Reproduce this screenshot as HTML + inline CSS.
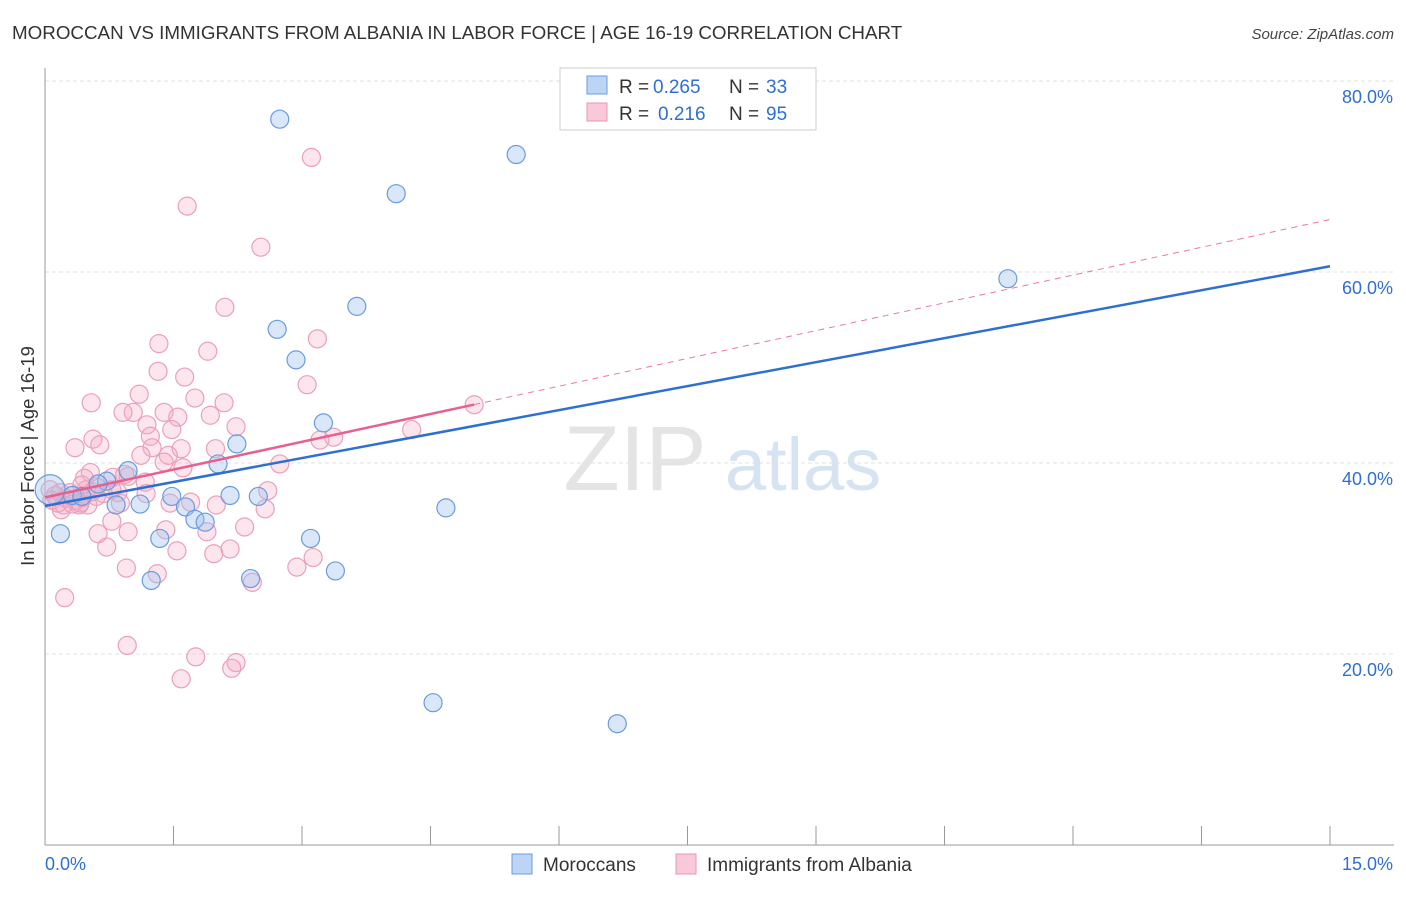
<!DOCTYPE html>
<html><head><meta charset="utf-8"><style>
body{margin:0;background:#fff;font-family:"Liberation Sans",sans-serif}
svg text{font-family:"Liberation Sans",sans-serif}
</style></head><body>
<svg id="chart" width="1406" height="892" xmlns="http://www.w3.org/2000/svg">
<text x="12" y="39" font-size="18.8" fill="#333">MOROCCAN VS IMMIGRANTS FROM ALBANIA IN LABOR FORCE | AGE 16-19 CORRELATION CHART</text>
<text x="1394" y="39" font-size="15" fill="#444" text-anchor="end" font-style="italic">Source: ZipAtlas.com</text>
<g>
<text x="635" y="490" font-size="92" fill="#e4e4e4" text-anchor="middle" font-family="Liberation Serif">ZIP</text>
<text x="803" y="490" font-size="74" fill="#d6e3f3" text-anchor="middle">atlas</text>
</g>
<g id="grid"></g>
<g id="axes"></g>
<g id="points"></g>
<g id="trends"></g>
<g>
<rect x="560" y="68" width="256" height="62" fill="#fff" stroke="#ccc"/>
<rect x="587" y="76" width="20" height="18" fill="#bcd5f5" stroke="#6a9be0"/>
<text x="619" y="93" font-size="19" fill="#333">R =</text>
<text x="653" y="93" font-size="19" fill="#2f6fd1">0.265</text>
<text x="729" y="93" font-size="19" fill="#333">N =</text>
<text x="766" y="93" font-size="19" fill="#2f6fd1">33</text>
<rect x="587" y="103" width="20" height="18" fill="#f9c9d8" stroke="#e895b0"/>
<text x="619" y="120" font-size="19" fill="#333">R =</text>
<text x="658" y="120" font-size="19" fill="#2f6fd1">0.216</text>
<text x="729" y="120" font-size="19" fill="#333">N =</text>
<text x="766" y="120" font-size="19" fill="#2f6fd1">95</text>
</g>
<g>
<rect x="512" y="854" width="20" height="20" fill="#bcd5f5" stroke="#6a9be0"/>
<text x="543" y="871" font-size="19" fill="#333">Moroccans</text>
<rect x="676" y="854" width="20" height="20" fill="#f9c9d8" stroke="#e895b0"/>
<text x="707" y="871" font-size="19" fill="#333">Immigrants from Albania</text>
</g>
<text transform="translate(34,456) rotate(-90)" font-size="18.5" fill="#333" text-anchor="middle">In Labor Force | Age 16-19</text>
</svg>
<script>
const yTicks=[20,40,60,80];
const yTickLabels=["20.0%","40.0%","60.0%","80.0%"];
const xTicks=[0,1.5,3,4.5,6,7.5,9,10.5,12,13.5,15];
const blueX=[2.74,5.50,4.10,11.24,3.64,2.71,2.93,3.25,2.24,2.02,0.97,0.72,0.18,0.83,1.11,1.48,1.64,1.75,1.87,2.16,2.49,4.68,1.34,3.10,1.24,2.40,3.39,4.53,6.68,0.06,0.32,0.62,0.43];
const blueY=[76.0,72.3,68.2,59.3,56.4,54.0,50.8,44.2,42.0,39.9,39.2,38.1,32.6,35.6,35.7,36.5,35.4,34.1,33.8,36.6,36.5,35.3,32.1,32.1,27.7,27.9,28.7,14.9,12.7,37.2,36.6,37.8,36.5];
const pinkX=[3.11,1.66,2.52,2.10,3.18,1.33,1.90,1.32,1.63,3.06,1.10,1.75,0.54,2.09,5.01,1.03,0.91,1.39,1.93,1.55,1.19,2.23,1.48,1.23,4.28,3.37,3.21,0.56,0.64,0.35,1.25,1.59,1.99,1.12,1.44,1.39,2.74,1.61,0.53,0.46,0.79,0.97,1.17,2.60,0.68,0.85,1.18,0.60,0.88,1.46,1.70,2.00,2.57,0.19,0.40,0.50,0.78,1.41,2.33,0.62,0.97,1.89,0.72,2.16,1.97,1.54,3.13,2.94,0.95,1.31,2.42,0.23,0.96,1.76,2.23,2.18,1.59,0.06,0.12,0.08,0.18,0.25,0.29,0.36,0.44,0.48,0.15,0.22,0.32,0.41,0.55,0.60,0.78,0.93,0.43];
const pinkY=[72.0,66.9,62.6,56.3,53.0,52.5,51.7,49.6,49.0,48.2,47.2,46.8,46.3,46.3,46.1,45.3,45.3,45.3,45.0,44.8,44.0,43.8,43.5,42.8,43.5,42.7,42.4,42.5,41.9,41.6,41.6,41.5,41.5,40.8,40.8,40.1,39.9,39.5,39.0,38.4,38.5,38.6,38.0,37.1,36.8,36.9,36.8,36.5,35.8,35.8,35.9,35.6,35.2,35.1,35.6,35.6,33.9,33.0,33.3,32.6,32.8,32.8,31.2,31.0,30.5,30.8,30.1,29.1,29.0,28.4,27.5,25.9,20.9,19.7,19.1,18.5,17.4,37.2,36.6,36.1,36.9,36.3,36.9,36.1,36.4,37.2,35.8,35.6,35.7,35.8,37.0,37.5,37.2,38.8,37.7];
const blueTrend=[35.5,60.6];
const pinkTrend=[36.4,1.94];
const NS='http://www.w3.org/2000/svg';
const xs=v=>45+v*(1285/15);
const ys=v=>845-v*9.55;
function mk(tag,attrs,parent){const e=document.createElementNS(NS,tag);for(const k in attrs)e.setAttribute(k,attrs[k]);parent.appendChild(e);return e;}
const grid=document.getElementById('grid'),axes=document.getElementById('axes'),pts=document.getElementById('points'),tr=document.getElementById('trends');
yTicks.forEach((t,i)=>{
 const l=mk('line',{x1:45,x2:1394,y1:ys(t),y2:ys(t),stroke:'#e2e2e2','stroke-dasharray':'4,3'},grid);
 
 
 const tx=mk('text',{x:1393,y:ys(t)+22,'font-size':18,fill:'#2f6fd1','text-anchor':'end'},axes);
 tx.textContent=yTickLabels[i];
 
 
});
const ya=mk('line',{x1:45,x2:45,y1:68,y2:845,stroke:'#999'},axes);


const xa=mk('line',{x1:45,x2:1394,y1:845,y2:845,stroke:'#999'},axes);


xTicks.forEach(t=>{
 const l=mk('line',{x1:xs(t),x2:xs(t),y1:826,y2:845,stroke:'#999'},axes);
 
 
});
const xl0=mk('text',{x:45,y:870,'font-size':18,fill:'#2f6fd1'},axes);xl0.textContent='0.0%';


const xl1=mk('text',{x:1393,y:870,'font-size':18,fill:'#2f6fd1','text-anchor':'end'},axes);xl1.textContent='15.0%';


pinkX.forEach((x,i)=>{
 const c=mk('circle',{cx:xs(x),cy:ys(pinkY[i]),r:9,fill:'rgba(244,170,195,0.3)',stroke:'#eaa0b8','stroke-width':1.2},pts);
 
 
});
blueX.forEach((x,i)=>{
 const c=mk('circle',{cx:xs(x),cy:ys(blueY[i]),r:i===29?15:9,fill:'rgba(160,196,240,0.4)',stroke:'#6a9be0','stroke-width':1.2},pts);
 
 
});
const bl=mk('line',{x1:xs(0),y1:ys(blueTrend[0]),x2:xs(15),y2:ys(blueTrend[1]),stroke:'#2f6fd1','stroke-width':2.5},tr);


const pd=mk('line',{x1:xs(5.01),y1:ys(pinkTrend[0]+pinkTrend[1]*5.01),x2:xs(15),y2:ys(pinkTrend[0]+pinkTrend[1]*15),stroke:'#e87aa0','stroke-width':1,'stroke-dasharray':'6,5'},tr);


const pl=mk('line',{x1:xs(0),y1:ys(pinkTrend[0]),x2:xs(5.01),y2:ys(pinkTrend[0]+pinkTrend[1]*5.01),stroke:'#e8608e','stroke-width':2.5},tr);


</script>
</body></html>
